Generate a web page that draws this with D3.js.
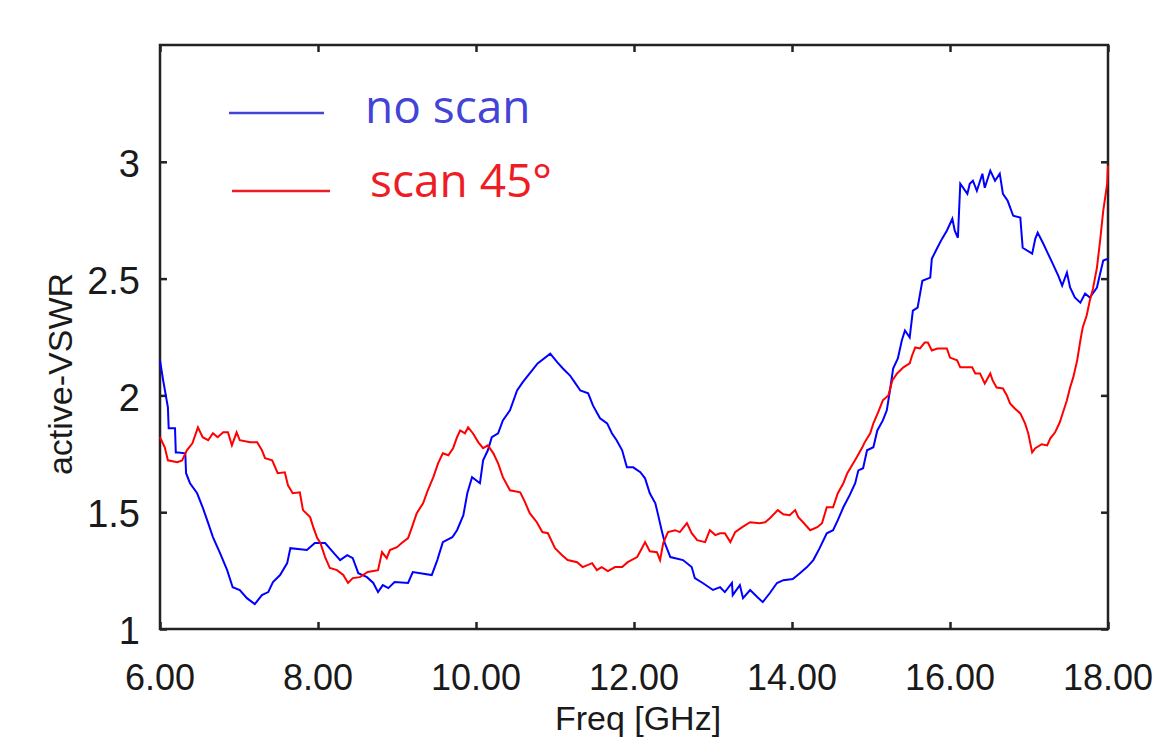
<!DOCTYPE html>
<html>
<head>
<meta charset="utf-8">
<script src="https://cdn.jsdelivr.net/npm/d3@7"></script>
<style>
  body { margin: 0; background: #fff; overflow: hidden; }
</style>
</head>
<body>
<div class="chart"></div>
<script>
// Data
var xTicks = [6, 8, 10, 12, 14, 16, 18],
  yTicks = [1, 1.5, 2, 2.5, 3];

var seriesNames = ["no scan", "scan 45°"];

var noScanFreq = [6.00, 6.04, 6.10, 6.11, 6.19, 6.20, 6.23, 6.32, 6.33, 6.38, 6.47, 6.54, 6.61, 6.67, 6.76, 6.85, 6.92, 7.01, 7.10, 7.20,
  7.29, 7.37, 7.43, 7.52, 7.61, 7.65, 7.86, 7.96, 8.09, 8.19, 8.28, 8.37, 8.44, 8.51, 8.62, 8.70, 8.76, 8.82, 8.89, 8.97,
  9.14, 9.20, 9.44, 9.51, 9.58, 9.70, 9.76, 9.84, 9.89, 9.95, 10.05, 10.09, 10.15, 10.20, 10.28, 10.34, 10.43, 10.52, 10.59, 10.68,
  10.78, 10.94, 11.03, 11.10, 11.19, 11.25, 11.32, 11.42, 11.48, 11.57, 11.66, 11.72, 11.78, 11.85, 11.91, 11.99, 12.08, 12.14, 12.20, 12.27,
  12.30, 12.35, 12.39, 12.46, 12.62, 12.73, 12.77, 12.87, 13.00, 13.09, 13.15, 13.24, 13.25, 13.34, 13.38, 13.47, 13.56, 13.63, 13.72, 13.81,
  13.89, 14.01, 14.10, 14.19, 14.27, 14.35, 14.44, 14.52, 14.58, 14.65, 14.73, 14.80, 14.84, 14.90, 14.95, 15.03, 15.08, 15.15, 15.20, 15.24,
  15.28, 15.34, 15.39, 15.43, 15.49, 15.53, 15.59, 15.65, 15.75, 15.77, 15.84, 15.90, 15.96, 16.03, 16.06, 16.10, 16.13, 16.22, 16.25, 16.29,
  16.34, 16.41, 16.44, 16.51, 16.57, 16.63, 16.67, 16.73, 16.80, 16.89, 16.92, 17.04, 17.08, 17.11, 17.18, 17.24, 17.30, 17.37, 17.42, 17.48,
  17.52, 17.58, 17.65, 17.71, 17.77, 17.86, 17.90, 17.94, 18.00];

var noScanVswr = [2.150, 2.064, 1.949, 1.859, 1.859, 1.756, 1.756, 1.752, 1.667, 1.624, 1.581, 1.521, 1.453, 1.393, 1.325, 1.252, 1.179, 1.167, 1.132, 1.107,
  1.145, 1.158, 1.201, 1.231, 1.282, 1.346, 1.338, 1.368, 1.368, 1.329, 1.295, 1.316, 1.303, 1.239, 1.222, 1.197, 1.158, 1.188, 1.175, 1.201,
  1.197, 1.244, 1.231, 1.295, 1.372, 1.393, 1.423, 1.487, 1.581, 1.650, 1.624, 1.722, 1.765, 1.821, 1.838, 1.893, 1.936, 2.021, 2.056, 2.094,
  2.137, 2.179, 2.141, 2.115, 2.085, 2.056, 2.021, 2.009, 1.957, 1.902, 1.880, 1.838, 1.808, 1.765, 1.692, 1.692, 1.671, 1.645, 1.581, 1.538,
  1.496, 1.423, 1.368, 1.308, 1.295, 1.265, 1.218, 1.197, 1.167, 1.179, 1.158, 1.197, 1.145, 1.188, 1.132, 1.167, 1.137, 1.115, 1.154, 1.197,
  1.209, 1.214, 1.239, 1.265, 1.295, 1.346, 1.410, 1.423, 1.466, 1.521, 1.573, 1.624, 1.679, 1.688, 1.765, 1.778, 1.850, 1.893, 1.936, 2.021,
  2.115, 2.158, 2.235, 2.278, 2.248, 2.363, 2.376, 2.491, 2.504, 2.585, 2.632, 2.671, 2.705, 2.756, 2.705, 2.675, 2.906, 2.863, 2.906, 2.919,
  2.876, 2.949, 2.889, 2.962, 2.919, 2.949, 2.863, 2.833, 2.769, 2.761, 2.632, 2.607, 2.671, 2.697, 2.650, 2.607, 2.564, 2.513, 2.470, 2.526,
  2.462, 2.419, 2.397, 2.436, 2.419, 2.462, 2.521, 2.577, 2.585];

var scanFreq = [6.00, 6.06, 6.10, 6.22, 6.28, 6.34, 6.41, 6.48, 6.54, 6.61, 6.67, 6.73, 6.80, 6.86, 6.91, 6.97, 7.01, 7.14, 7.23, 7.29,
  7.33, 7.42, 7.49, 7.58, 7.62, 7.68, 7.77, 7.81, 7.90, 7.94, 7.99, 8.03, 8.09, 8.15, 8.24, 8.32, 8.38, 8.44, 8.53, 8.63,
  8.76, 8.81, 8.87, 8.91, 9.00, 9.06, 9.14, 9.19, 9.25, 9.33, 9.39, 9.46, 9.52, 9.58, 9.65, 9.71, 9.76, 9.80, 9.86, 9.90,
  9.96, 10.03, 10.09, 10.15, 10.22, 10.28, 10.34, 10.43, 10.56, 10.62, 10.68, 10.77, 10.84, 10.91, 11.00, 11.09, 11.16, 11.28, 11.35, 11.47,
  11.53, 11.59, 11.67, 11.76, 11.85, 11.92, 12.04, 12.10, 12.14, 12.20, 12.29, 12.33, 12.37, 12.43, 12.52, 12.58, 12.67, 12.73, 12.80, 12.90,
  12.96, 13.03, 13.09, 13.15, 13.22, 13.28, 13.37, 13.47, 13.59, 13.66, 13.72, 13.82, 13.89, 13.97, 14.04, 14.08, 14.14, 14.23, 14.32, 14.38,
  14.44, 14.52, 14.58, 14.65, 14.70, 14.76, 14.82, 14.89, 14.92, 14.99, 15.03, 15.09, 15.15, 15.22, 15.27, 15.33, 15.41, 15.49, 15.52, 15.56,
  15.62, 15.68, 15.72, 15.77, 15.84, 15.96, 16.00, 16.09, 16.13, 16.28, 16.32, 16.38, 16.44, 16.51, 16.54, 16.59, 16.67, 16.72, 16.76, 16.82,
  16.89, 16.95, 16.99, 17.04, 17.08, 17.16, 17.23, 17.27, 17.33, 17.39, 17.43, 17.48, 17.52, 17.56, 17.61, 17.65, 17.68, 17.73, 17.77, 17.81,
  17.86, 17.90, 17.94, 17.99, 18.00];

var scanVswr = [1.821, 1.778, 1.722, 1.714, 1.722, 1.765, 1.795, 1.863, 1.821, 1.808, 1.838, 1.821, 1.842, 1.842, 1.786, 1.842, 1.808, 1.799, 1.799, 1.765,
  1.731, 1.722, 1.667, 1.671, 1.615, 1.581, 1.585, 1.509, 1.479, 1.436, 1.389, 1.368, 1.308, 1.261, 1.252, 1.231, 1.197, 1.218, 1.222, 1.244,
  1.252, 1.329, 1.303, 1.338, 1.350, 1.368, 1.389, 1.436, 1.496, 1.538, 1.594, 1.650, 1.709, 1.752, 1.744, 1.774, 1.821, 1.850, 1.838, 1.863,
  1.838, 1.799, 1.774, 1.786, 1.752, 1.709, 1.650, 1.594, 1.585, 1.543, 1.496, 1.457, 1.415, 1.410, 1.346, 1.316, 1.295, 1.286, 1.265, 1.282,
  1.252, 1.265, 1.248, 1.265, 1.265, 1.286, 1.308, 1.346, 1.372, 1.333, 1.329, 1.295, 1.368, 1.415, 1.423, 1.415, 1.453, 1.410, 1.380, 1.372,
  1.423, 1.402, 1.410, 1.410, 1.372, 1.415, 1.436, 1.457, 1.453, 1.457, 1.474, 1.509, 1.491, 1.487, 1.509, 1.479, 1.457, 1.423, 1.436, 1.453,
  1.521, 1.521, 1.581, 1.624, 1.667, 1.701, 1.735, 1.778, 1.799, 1.838, 1.880, 1.927, 1.979, 2.000, 2.064, 2.094, 2.120, 2.137, 2.171, 2.205,
  2.201, 2.226, 2.226, 2.192, 2.201, 2.201, 2.162, 2.150, 2.120, 2.120, 2.094, 2.094, 2.051, 2.094, 2.064, 2.034, 2.030, 2.000, 1.966, 1.944,
  1.923, 1.880, 1.838, 1.756, 1.774, 1.791, 1.786, 1.816, 1.842, 1.885, 1.927, 1.979, 2.034, 2.077, 2.150, 2.235, 2.291, 2.342, 2.406, 2.457,
  2.547, 2.662, 2.791, 2.906, 2.983];

// Chart parameters
var width = 1159,
  height = 738,
  margin = {top: 45, right: 51, bottom: 109, left: 160},
  innerWidth = width - margin.left - margin.right,
  innerHeight = height - margin.top - margin.bottom,
  tickLength = 7,
  frameColor = "#222",
  labelFont = "'Liberation Sans', Arial, sans-serif",
  legendFont = "'Open Sans', sans-serif";

var svg = d3.select(".chart").append("svg")
  .attr("width", width)
  .attr("height", height)
  .style("display", "block");

var g = svg.append("g")
  .attr("transform", "translate(" + margin.left + "," + margin.top + ")");

var x = d3.scaleLinear().domain([6, 18]).range([0, innerWidth]),
  y = d3.scaleLinear().domain([1, 3.5]).range([innerHeight, 0]);

// Inward ticks on all four sides
var xAxisBottom = d3.axisBottom(x).tickValues(xTicks).tickSize(-tickLength).tickFormat(""),
  xAxisTop = d3.axisTop(x).tickValues(xTicks).tickSize(-tickLength).tickFormat(""),
  yAxisLeft = d3.axisLeft(y).tickValues(yTicks).tickSize(-tickLength).tickFormat(""),
  yAxisRight = d3.axisRight(y).tickValues(yTicks).tickSize(-tickLength).tickFormat("");

function styleAxis(sel) {
  sel.select(".domain").remove();
  sel.selectAll(".tick line").attr("stroke", frameColor).attr("stroke-width", 2.5);
}

g.append("g").attr("transform", "translate(0," + innerHeight + ")").call(xAxisBottom).call(styleAxis);
g.append("g").call(xAxisTop).call(styleAxis);
g.append("g").call(yAxisLeft).call(styleAxis);
g.append("g").attr("transform", "translate(" + innerWidth + ",0)").call(yAxisRight).call(styleAxis);

// Frame
g.append("rect")
  .attr("width", innerWidth)
  .attr("height", innerHeight)
  .attr("fill", "none")
  .attr("stroke", frameColor)
  .attr("stroke-width", 2.5);

// Tick labels
g.selectAll(".xlabel")
  .data(xTicks)
  .enter().append("text")
    .attr("class", "xlabel")
    .attr("x", function(d) { return x(d); })
    .attr("y", innerHeight + 61)
    .attr("text-anchor", "middle")
    .style("font-family", labelFont)
    .style("font-size", "36px")
    .style("fill", "#1a1a1a")
    .text(function(d) { return d3.format(".2f")(d); });

g.selectAll(".ylabel")
  .data(yTicks)
  .enter().append("text")
    .attr("class", "ylabel")
    .attr("x", -20)
    .attr("y", function(d) { return y(d); })
    .attr("dy", "0.4em")
    .attr("text-anchor", "end")
    .style("font-family", labelFont)
    .style("font-size", "38px")
    .style("fill", "#1a1a1a")
    .text(function(d) { return d; });

// Axis titles
svg.append("text")
  .attr("transform", "translate(72,374) rotate(-90)")
  .attr("text-anchor", "middle")
  .style("font-family", labelFont)
  .style("font-size", "34px")
  .style("fill", "#1a1a1a")
  .text("active-VSWR");

svg.append("text")
  .attr("x", 638)
  .attr("y", 730)
  .attr("text-anchor", "middle")
  .style("font-family", labelFont)
  .style("font-size", "34px")
  .style("fill", "#1a1a1a")
  .text("Freq [GHz]");

// Curves
var line = d3.line()
  .x(function(d) { return x(d[0]); })
  .y(function(d) { return y(d[1]); });

var series = [
  {name: seriesNames[0], color: "#0000ff", values: d3.zip(noScanFreq, noScanVswr)},
  {name: seriesNames[1], color: "#ff0000", values: d3.zip(scanFreq, scanVswr)}
];

g.selectAll(".curve")
  .data(series)
  .enter().append("path")
    .attr("class", "curve")
    .attr("d", function(d) { return line(d.values); })
    .attr("fill", "none")
    .attr("stroke", function(d) { return d.color; })
    .attr("stroke-width", 2);

// Legend
var legendItems = [
  {name: seriesNames[0], color: "#4343d6", x1: 229, x2: 324, y: 113, tx: 365, ty: 123},
  {name: seriesNames[1], color: "#ee1c24", x1: 232, x2: 330, y: 191, tx: 370, ty: 197}
];

var legend = svg.selectAll(".legend")
  .data(legendItems)
  .enter().append("g")
    .attr("class", "legend");

legend.append("line")
  .attr("x1", function(d) { return d.x1; })
  .attr("x2", function(d) { return d.x2; })
  .attr("y1", function(d) { return d.y; })
  .attr("y2", function(d) { return d.y; })
  .attr("stroke", function(d) { return d.color; })
  .attr("stroke-width", 2.5);

legend.append("text")
  .attr("x", function(d) { return d.tx; })
  .attr("y", function(d) { return d.ty; })
  .style("font-family", legendFont)
  .style("font-size", "46px")
  .style("fill", function(d) { return d.color; })
  .text(function(d) { return d.name; });
</script>
</body>
</html>
